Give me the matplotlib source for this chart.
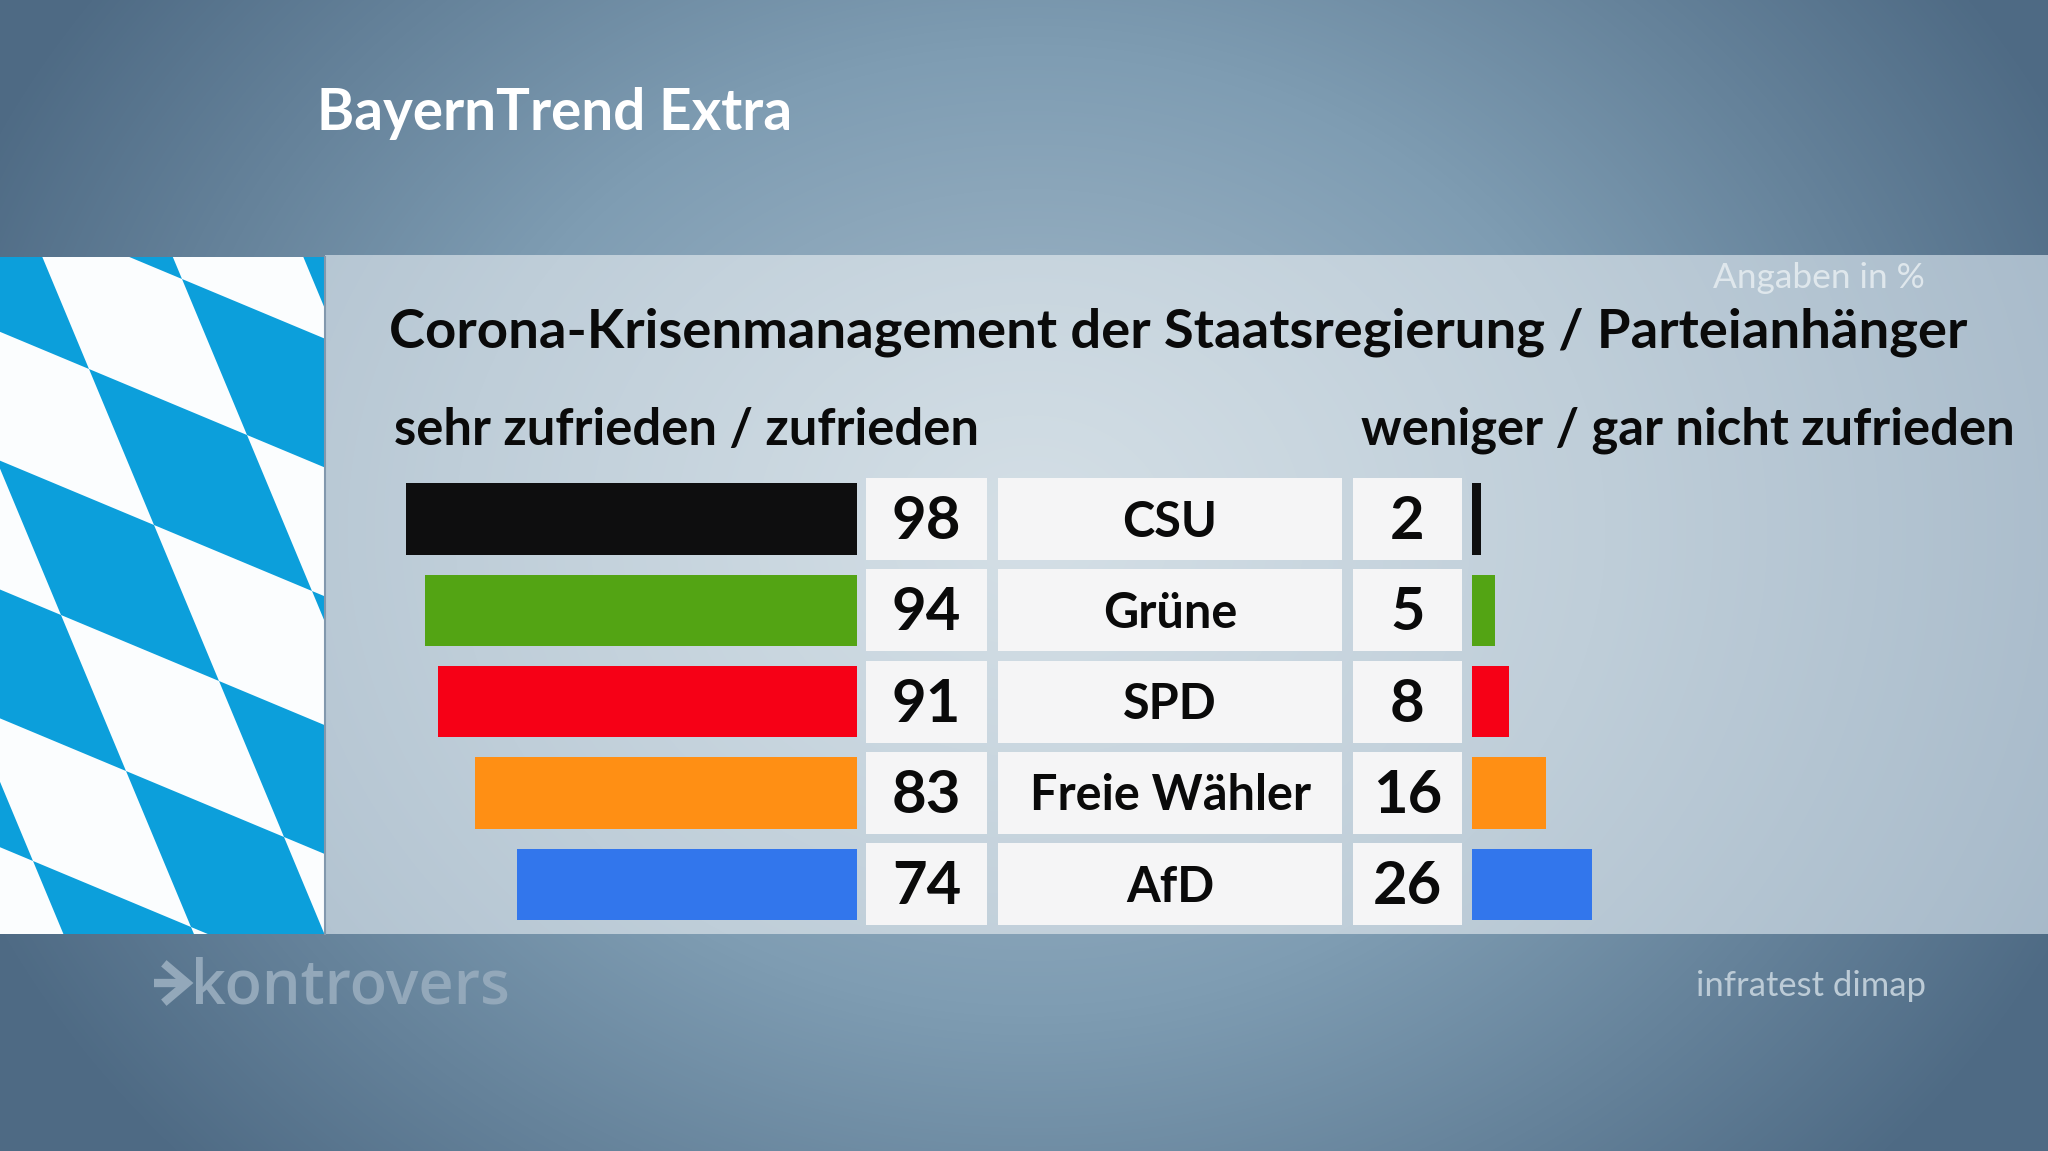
# BayernTrend Extra: Zufriedenheit nach Parteianhaengern
import numpy as np
import matplotlib
matplotlib.use("Agg")
import matplotlib.pyplot as plt
from matplotlib.patches import Polygon, Rectangle
from matplotlib.colors import LinearSegmentedColormap

# Daten
parteien = ["CSU", "Grüne", "SPD", "Freie Wähler", "AfD"]
zufrieden = [98, 94, 91, 83, 74]
nicht_zufrieden = [2, 5, 8, 16, 26]
farben = ["#0e0e0f", "#53a414", "#f60016", "#ff8f14", "#3276ec"]

W, H = 2048, 1151
plt.rcParams["font.family"] = ["Lato", "DejaVu Sans"]

fig = plt.figure(figsize=(W / 100, H / 100), dpi=100)
bg = fig.add_axes([0, 0, 1, 1])
bg.set_xlim(0, W)
bg.set_ylim(H, 0)
bg.axis("off")

# Hintergrund mit radialem Verlauf
yy, xx = np.mgrid[0:H, 0:W]
r = np.sqrt(((xx - 1030) / 1150) ** 2 + ((yy - 530) / 950) ** 2)
r = np.clip(r, 0, 1)
band = LinearSegmentedColormap.from_list("band", ["#a9bdcc", "#7f9db3", "#4e6a84"])
panel = LinearSegmentedColormap.from_list("panel", ["#d4dfe6", "#bfced9", "#a6b9c9"])
bg.imshow(r, cmap=band, vmin=0, vmax=1, extent=[0, W, H, 0], aspect="auto", zorder=0)
img = bg.imshow(r, cmap=panel, vmin=0, vmax=1, extent=[0, W, H, 0], aspect="auto", zorder=1)
img.set_clip_path(Rectangle((325, 255), W - 325, 679, transform=bg.transData))

# Bayerische Rauten
flagge = Rectangle((0, 257), 325, 677, facecolor="#fbfdfe", edgecolor="none", zorder=2)
bg.add_patch(flagge)
p0 = np.array([89.0, 369.0])
a = np.array([158.0, 66.0])
b = np.array([65.0, 156.0])
for i in range(-4, 5):
    for j in range(-4, 5):
        if (i + j) % 2 == 0:
            p = p0 + i * a + j * b
            raute = Polygon([p, p + a, p + a + b, p + b], facecolor="#0c9fdb",
                            edgecolor="none", zorder=3)
            bg.add_patch(raute)
            raute.set_clip_path(flagge)
bg.plot([325, 325], [257, 934], color="#8298ad", lw=1.5, zorder=4)

# Zeilen: Mitte der ersten Zeile bei y=519, Abstand 91.3 px
zeile0, abstand = 519, 91.3
y_pos = np.arange(len(parteien))
px_pro_prozent = 4.6


def balken_achse(x_start, x_ende):
    left = min(x_start, x_ende) / W
    achse = fig.add_axes([left, 0, abs(x_ende - x_start) / W, 1], zorder=5)
    achse.set_ylim((H - zeile0) / abstand, -zeile0 / abstand)
    achse.axis("off")
    achse.patch.set_alpha(0)
    return achse


ax_l = balken_achse(857 - 100 * px_pro_prozent, 857)
ax_l.set_xlim(100, 0)
ax_l.barh(y_pos, zufrieden, height=0.78, color=farben)

ax_r = balken_achse(1472, 1472 + 100 * px_pro_prozent)
ax_r.set_xlim(0, 100)
ax_r.barh(y_pos, nicht_zufrieden, height=0.78, color=farben)

# Weisse Felder mit Zahlen und Parteinamen
for i, partei in enumerate(parteien):
    y = zeile0 + i * abstand
    for x0, x1 in [(866, 987), (998, 1342), (1353, 1462)]:
        bg.add_patch(Rectangle((x0, y - 41), x1 - x0, 82, facecolor="#f5f5f6",
                               edgecolor="none", zorder=4))
    bg.text(926.5, y - 2, str(zufrieden[i]), fontsize=43, fontweight="bold", color="#0a0a0a",
            ha="center", va="center_baseline", zorder=6)
    bg.text(1170, y - 1, partei, fontsize=35, fontweight="bold", color="#0a0a0a",
            ha="center", va="center_baseline", zorder=6)
    bg.text(1407.5, y - 2, str(nicht_zufrieden[i]), fontsize=43, fontweight="bold", color="#0a0a0a",
            ha="center", va="center_baseline", zorder=6)

# Texte
bg.text(317, 113, "BayernTrend Extra", fontsize=40.8, fontweight="bold", color="white",
        va="center", zorder=6)
bg.text(389, 332, "Corona-Krisenmanagement der Staatsregierung / Parteianhänger", fontsize=39.2,
        fontweight="bold", color="#0a0a0a", va="center", zorder=6)
bg.text(394, 430, "sehr zufrieden / zufrieden", fontsize=36.5, fontweight="bold", color="#0a0a0a",
        va="center", zorder=6)
bg.text(1361, 430, "weniger / gar nicht zufrieden", fontsize=36.5, fontweight="bold", color="#0a0a0a",
        va="center", zorder=6)
bg.text(1925, 278, "Angaben in %", fontsize=25.4, color="#dfe7ec", ha="right", va="center", zorder=6)
bg.text(1926, 986, "infratest dimap", fontsize=24.9, color="#bccbd6", ha="right", va="center", zorder=6)

# Logo
logo = "#93a8ba"
bg.plot([154, 186], [983, 983], color=logo, lw=6, solid_capstyle="butt", zorder=6)
bg.plot([167, 187, 167], [966, 983, 1000], color=logo, lw=6, solid_joinstyle="miter", zorder=6)
bg.text(191, 1003, "kontrovers", fontsize=44, fontweight=600, family=["Open Sans", "DejaVu Sans"],
        color=logo, va="baseline", zorder=6)

fig.savefig("out.png", dpi=100)
